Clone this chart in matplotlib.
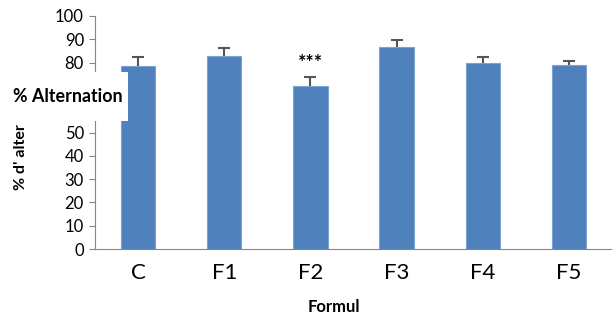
import matplotlib
matplotlib.use("Agg")
import matplotlib.pyplot as plt
from matplotlib.patches import Rectangle

categories = ["C", "F1", "F2", "F3", "F4", "F5"]
values = [78.5, 82.8, 70.0, 86.6, 79.8, 78.8]
errors = [3.9, 3.6, 4.0, 3.0, 2.7, 2.1]
yticks = [0, 10, 20, 30, 40, 50, 60, 70, 80, 90, 100]
# 60 and 70 are hidden under the "% Alternation" box in the reference
hidden_ticks = [60, 70]

plt.rcParams['font.family'] = ['Lato', 'DejaVu Sans']

W, H = 612, 334
fig = plt.figure(figsize=(W/100, H/100), dpi=100)
ax = fig.add_axes([95/W, (H-249)/H, 1-95/W, (249-16)/H])

x = list(range(len(categories)))
ax.bar(x, values, width=0.4, color='#4F81BD', edgecolor='#7EA3D0', linewidth=0.8, zorder=2)
tops = [v + e for v, e in zip(values, errors)]
ax.vlines(x, values, tops, color='#555555', linewidth=1.5, zorder=3)
ax.scatter(x, tops, marker='_', s=70, color='#555555', linewidths=1.5, zorder=3)
ax.text(2, 80.2, "***", ha='center', va='center', fontsize=14, fontweight='bold')

ax.set_xlim(-0.5, 5.5)
ax.set_ylim(0, 100)
ax.set_yticks(yticks)
ax.set_yticklabels(["" if t in hidden_ticks else str(t) for t in yticks], fontsize=12)
ax.set_xticks(x)
ax.set_xticklabels(categories, fontsize=16)
ax.tick_params(axis='x', length=0, pad=10)
ax.tick_params(axis='y', length=4, color='#868686', pad=4)
for s in ['top', 'right']:
    ax.spines[s].set_visible(False)
ax.spines['left'].set_color('#868686')
ax.spines['bottom'].set_color('#868686')

fig.text(334/W, 1-307/H, "Formul", ha='center', va='center', fontsize=12, fontweight='bold')
fig.text(21/W, 1-157/H, "% d' alter", ha='center', va='center', rotation=90, fontsize=11.5, fontweight='bold')

# white box overlay with label
fig.patches.append(Rectangle((0, 1-121/H), 128/W, 49/H, transform=fig.transFigure,
                             facecolor='white', edgecolor='none', zorder=10))
fig.text(13/W, 1-97/H, "% Alternation", ha='left', va='center', fontsize=12.9,
         fontweight='bold', zorder=11)

fig.savefig("out.png", dpi=100)
